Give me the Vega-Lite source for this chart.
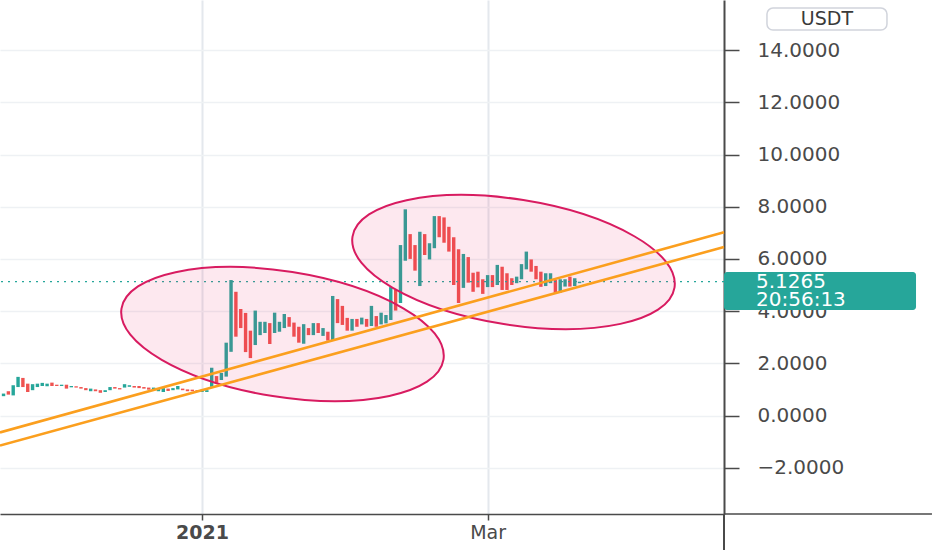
{
  "$schema": "https://vega.github.io/schema/vega-lite/v6.json",
  "width": 724,
  "height": 514,
  "autosize": {"type": "none"},
  "padding": {"left": 0, "top": 0, "right": 208, "bottom": 36},
  "background": "#ffffff",
  "config": {"view": {"stroke": null}},
  "datasets": {
    "candles": [
      {"d":"2020-11-21","o":0.74,"c":0.84},{"d":"2020-11-22","o":0.93,"c":0.80},{"d":"2020-11-23","o":0.77,"c":1.16},{"d":"2020-11-24","o":1.09,"c":1.48},{"d":"2020-11-25","o":1.44,"c":1.09},{"d":"2020-11-26","o":1.22,"c":0.90},{"d":"2020-11-27","o":0.97,"c":1.20},{"d":"2020-11-28","o":1.09,"c":1.22},{"d":"2020-11-29","o":1.13,"c":1.25},{"d":"2020-11-30","o":1.12,"c":1.22},
      {"d":"2020-12-01","o":1.26,"c":1.13},{"d":"2020-12-02","o":1.18,"c":1.13},{"d":"2020-12-03","o":1.13,"c":1.18},{"d":"2020-12-04","o":1.18,"c":1.03},{"d":"2020-12-05","o":1.08,"c":1.13},{"d":"2020-12-06","o":1.12,"c":1.07},{"d":"2020-12-07","o":1.09,"c":1.03},{"d":"2020-12-08","o":1.05,"c":0.97},{"d":"2020-12-09","o":0.93,"c":1.03},{"d":"2020-12-10","o":1.00,"c":0.93},
      {"d":"2020-12-11","o":0.97,"c":0.87},{"d":"2020-12-12","o":0.90,"c":0.97},{"d":"2020-12-13","o":0.97,"c":1.09},{"d":"2020-12-14","o":1.09,"c":1.03},{"d":"2020-12-15","o":1.05,"c":1.00},{"d":"2020-12-16","o":1.07,"c":1.20},{"d":"2020-12-17","o":1.10,"c":1.16},{"d":"2020-12-18","o":1.13,"c":1.07},{"d":"2020-12-19","o":1.13,"c":1.05},{"d":"2020-12-20","o":1.09,"c":1.03},
      {"d":"2020-12-21","o":1.07,"c":0.99},{"d":"2020-12-22","o":0.97,"c":1.07},{"d":"2020-12-23","o":0.93,"c":1.03},{"d":"2020-12-24","o":0.90,"c":1.05},{"d":"2020-12-25","o":1.03,"c":0.94},{"d":"2020-12-26","o":0.97,"c":1.05},{"d":"2020-12-27","o":1.00,"c":1.13},{"d":"2020-12-28","o":1.03,"c":0.97},{"d":"2020-12-29","o":1.00,"c":0.93},{"d":"2020-12-30","o":0.99,"c":0.93},
      {"d":"2020-12-31","o":0.97,"c":0.90},{"d":"2021-01-01","o":0.90,"c":0.99},{"d":"2021-01-02","o":0.90,"c":0.97},{"d":"2021-01-03","o":1.10,"c":1.83},{"d":"2021-01-04","o":1.51,"c":1.25},{"d":"2021-01-05","o":1.36,"c":1.63},{"d":"2021-01-06","o":1.49,"c":2.79},{"d":"2021-01-07","o":2.44,"c":5.19},{"d":"2021-01-08","o":4.74,"c":3.02},{"d":"2021-01-09","o":4.08,"c":3.35},
      {"d":"2021-01-10","o":3.93,"c":2.43},{"d":"2021-01-11","o":3.25,"c":2.20},{"d":"2021-01-12","o":2.70,"c":4.02},{"d":"2021-01-13","o":3.08,"c":3.59},{"d":"2021-01-14","o":3.16,"c":3.59},{"d":"2021-01-15","o":3.54,"c":2.74},{"d":"2021-01-16","o":3.16,"c":3.94},{"d":"2021-01-17","o":3.21,"c":3.59},{"d":"2021-01-18","o":3.35,"c":3.89},{"d":"2021-01-19","o":3.77,"c":3.40},
      {"d":"2021-01-20","o":3.56,"c":3.02},{"d":"2021-01-21","o":3.40,"c":2.79},{"d":"2021-01-22","o":2.75,"c":3.50},{"d":"2021-01-23","o":3.35,"c":3.08},{"d":"2021-01-24","o":3.08,"c":3.54},{"d":"2021-01-25","o":3.54,"c":3.16},{"d":"2021-01-26","o":3.05,"c":3.35},{"d":"2021-01-27","o":3.21,"c":2.87},{"d":"2021-01-28","o":2.89,"c":4.58},{"d":"2021-01-29","o":4.46,"c":3.54},
      {"d":"2021-01-30","o":4.20,"c":3.47},{"d":"2021-01-31","o":3.74,"c":3.25},{"d":"2021-02-01","o":3.25,"c":3.70},{"d":"2021-02-02","o":3.70,"c":3.40},{"d":"2021-02-03","o":3.49,"c":3.75},{"d":"2021-02-04","o":3.70,"c":3.40},{"d":"2021-02-05","o":3.43,"c":4.20},{"d":"2021-02-06","o":3.81,"c":3.40},{"d":"2021-02-07","o":3.49,"c":3.94},{"d":"2021-02-08","o":3.53,"c":3.85},
      {"d":"2021-02-09","o":3.66,"c":4.92},{"d":"2021-02-10","o":4.81,"c":4.02},{"d":"2021-02-11","o":4.31,"c":6.53},{"d":"2021-02-12","o":5.93,"c":7.90},{"d":"2021-02-13","o":6.95,"c":6.00},{"d":"2021-02-14","o":6.53,"c":5.55},{"d":"2021-02-15","o":4.96,"c":7.04},{"d":"2021-02-16","o":6.95,"c":6.15},{"d":"2021-02-17","o":5.98,"c":6.60},{"d":"2021-02-18","o":6.41,"c":7.64},
      {"d":"2021-02-19","o":7.64,"c":6.83},{"d":"2021-02-20","o":7.59,"c":6.62},{"d":"2021-02-21","o":7.23,"c":6.28},{"d":"2021-02-22","o":6.83,"c":5.00},{"d":"2021-02-23","o":6.37,"c":4.31},{"d":"2021-02-24","o":4.89,"c":6.19},{"d":"2021-02-25","o":6.07,"c":5.09},{"d":"2021-02-26","o":5.47,"c":4.74},{"d":"2021-02-27","o":5.51,"c":4.91},{"d":"2021-02-28","o":5.22,"c":4.66},
      {"d":"2021-03-01","o":4.92,"c":5.38},{"d":"2021-03-02","o":5.38,"c":4.92},{"d":"2021-03-03","o":5.00,"c":5.77},{"d":"2021-03-04","o":5.70,"c":4.81},{"d":"2021-03-05","o":5.45,"c":4.81},{"d":"2021-03-06","o":5.26,"c":5.00},{"d":"2021-03-07","o":5.07,"c":5.32},{"d":"2021-03-08","o":5.22,"c":5.80},{"d":"2021-03-09","o":5.60,"c":6.28},{"d":"2021-03-10","o":5.98,"c":5.51},
      {"d":"2021-03-11","o":5.73,"c":5.22},{"d":"2021-03-12","o":5.51,"c":4.93},{"d":"2021-03-13","o":4.96,"c":5.45},{"d":"2021-03-14","o":5.07,"c":5.45},{"d":"2021-03-15","o":5.19,"c":4.68},{"d":"2021-03-16","o":4.71,"c":5.22},{"d":"2021-03-17","o":4.94,"c":5.22},{"d":"2021-03-18","o":5.32,"c":4.94},{"d":"2021-03-19","o":4.96,"c":5.26},{"d":"2021-03-20","o":5.07,"c":5.1265}
    ],
    "last": [{"last": 5.1265, "timer": "20:56:13"}],
    "ellipses": [
      {"zone": "A", "d": "2021-01-17T15:00:00Z", "v": 3.12},
      {"zone": "B", "d": "2021-03-06T08:24:00Z", "v": 5.88}
    ],
    "trend": [
      {"line": "upper", "d": "2020-11-20T06:30:00Z", "v": -0.647},
      {"line": "upper", "d": "2021-04-18T20:00:00Z", "v": 7.02},
      {"line": "lower", "d": "2020-11-20T06:30:00Z", "v": -1.149},
      {"line": "lower", "d": "2021-04-18T20:00:00Z", "v": 6.456}
    ],
    "currency": [{"unit": "USDT"}]
  },
  "layer": [
    {
      "data": {"name": "candles"},
      "mark": {"type": "rule", "strokeWidth": 3.4},
      "encoding": {
        "x": {
          "field": "d", "type": "temporal",
          "scale": {"type": "utc", "domain": [
            {"year": 2020, "month": 11, "date": 20, "hours": 6, "minutes": 30, "utc": true},
            {"year": 2021, "month": 4, "date": 18, "hours": 20, "utc": true}
          ]},
          "axis": {
            "values": [
              {"year": 2021, "month": 1, "date": 1, "utc": true},
              {"year": 2021, "month": 3, "date": 1, "utc": true}
            ],
            "labelExpr": "utcmonth(datum.value) == 0 ? utcFormat(datum.value, '%Y') : utcFormat(datum.value, '%b')",
            "labelFontWeight": {"condition": {"test": "utcmonth(datum.value) == 0", "value": "bold"}, "value": "normal"},
            "title": null,
            "grid": true, "gridColor": "#e4e8ed", "gridWidth": 2,
            "domainColor": "#4a4a4a", "domainWidth": 1.5,
            "tickColor": "#4a4a4a", "tickSize": 6, "tickWidth": 1.5,
            "labelFont": "DejaVu Sans", "labelFontSize": 19, "labelColor": "#4a4a4a",
            "labelPadding": 3, "labelFlush": false
          }
        },
        "y": {
          "field": "o", "type": "quantitative",
          "scale": {"domain": [-3.774, 15.92], "nice": false, "zero": false},
          "axis": {
            "orient": "right",
            "values": [-2, 0, 2, 4, 6, 8, 10, 12, 14],
            "format": ".4f",
            "title": null,
            "grid": true, "gridColor": "#eef1f4", "gridWidth": 1.5,
            "domainColor": "#4a4a4a", "domainWidth": 2,
            "tickColor": "#4a4a4a", "tickSize": 15, "tickWidth": 1.5,
            "labelFont": "DejaVu Sans", "labelFontSize": 20, "labelColor": "#4a4a4a",
            "labelPadding": 18
          }
        },
        "y2": {"field": "c"},
        "color": {"condition": {"test": "datum.c >= datum.o", "value": "#26a69a"}, "value": "#ef5350"}
      }
    },
    {
      "data": {"name": "last"},
      "mark": {"type": "rule", "color": "#26a69a", "strokeDash": [2, 5], "strokeWidth": 1.2},
      "encoding": {"y": {"field": "last", "type": "quantitative"}}
    },
    {
      "data": {"name": "ellipses"},
      "mark": {
        "type": "point",
        "shape": "M -1 0 C -1 -0.2126 -0.5523 -0.385 0 -0.385 C 0.5523 -0.385 1 -0.2126 1 0 C 1 0.2126 0.5523 0.385 0 0.385 C -0.5523 0.385 -1 0.2126 -1 0 Z",
        "size": 106276,
        "angle": 9,
        "fill": "#e91e63",
        "fillOpacity": 0.1,
        "stroke": "#d81b60",
        "strokeWidth": 2,
        "opacity": 1
      },
      "encoding": {
        "x": {"field": "d", "type": "temporal"},
        "y": {"field": "v", "type": "quantitative"}
      }
    },
    {
      "data": {"name": "trend"},
      "mark": {"type": "line", "color": "#fb9f1e", "strokeWidth": 2.6},
      "encoding": {
        "x": {"field": "d", "type": "temporal"},
        "y": {"field": "v", "type": "quantitative"},
        "detail": {"field": "line"}
      }
    },
    {
      "data": {"name": "last"},
      "mark": {"type": "rule", "color": "#4a4a4a", "strokeWidth": 1.5},
      "encoding": {
        "x": {"datum": {"year": 2021, "month": 4, "date": 18, "hours": 20, "utc": true}, "type": "temporal"},
        "x2": {"datum": {"year": 2021, "month": 5, "date": 31, "hours": 19, "utc": true}},
        "y": {"datum": -3.774, "type": "quantitative"}
      }
    },
    {
      "data": {"name": "last"},
      "mark": {"type": "rule", "color": "#4a4a4a", "strokeWidth": 2},
      "encoding": {
        "x": {"datum": {"year": 2021, "month": 4, "date": 18, "hours": 20, "utc": true}, "type": "temporal"},
        "y": {"datum": -3.774, "type": "quantitative"},
        "y2": {"datum": -5.153}
      }
    },
    {
      "data": {"name": "last"},
      "mark": {"type": "rect", "color": "#26a69a", "cornerRadius": 3},
      "encoding": {
        "x": {"datum": {"year": 2021, "month": 4, "date": 18, "hours": 20, "utc": true}, "type": "temporal"},
        "x2": {"datum": {"year": 2021, "month": 5, "date": 28, "hours": 12, "utc": true}},
        "y": {"datum": 5.498, "type": "quantitative"},
        "y2": {"datum": 4.042}
      }
    },
    {
      "data": {"name": "last"},
      "mark": {"type": "text", "align": "left", "baseline": "middle", "dx": 32, "color": "#ffffff", "font": "DejaVu Sans", "fontSize": 20},
      "encoding": {
        "x": {"datum": {"year": 2021, "month": 4, "date": 18, "hours": 20, "utc": true}, "type": "temporal"},
        "y": {"field": "last", "type": "quantitative"},
        "text": {"field": "last", "type": "quantitative", "format": ".4f"}
      }
    },
    {
      "data": {"name": "last"},
      "mark": {"type": "text", "align": "left", "baseline": "middle", "dx": 32, "dy": 18, "color": "#ffffff", "font": "DejaVu Sans", "fontSize": 20},
      "encoding": {
        "x": {"datum": {"year": 2021, "month": 4, "date": 18, "hours": 20, "utc": true}, "type": "temporal"},
        "y": {"field": "last", "type": "quantitative"},
        "text": {"field": "timer"}
      }
    },
    {
      "data": {"name": "currency"},
      "mark": {"type": "rect", "fill": "#ffffff", "stroke": "#d1d4dc", "strokeWidth": 1.5, "cornerRadius": 6},
      "encoding": {
        "x": {"datum": {"year": 2021, "month": 4, "date": 27, "hours": 17, "utc": true}, "type": "temporal"},
        "x2": {"datum": {"year": 2021, "month": 5, "date": 22, "hours": 12, "utc": true}},
        "y": {"datum": 15.61, "type": "quantitative"},
        "y2": {"datum": 14.77}
      }
    },
    {
      "data": {"name": "currency"},
      "mark": {"type": "text", "align": "center", "baseline": "middle", "color": "#3a3a3a", "font": "DejaVu Sans", "fontSize": 19},
      "encoding": {
        "x": {"datum": {"year": 2021, "month": 5, "date": 10, "hours": 2, "minutes": 30, "utc": true}, "type": "temporal"},
        "y": {"datum": 15.19, "type": "quantitative"},
        "text": {"field": "unit"}
      }
    }
  ]
}
